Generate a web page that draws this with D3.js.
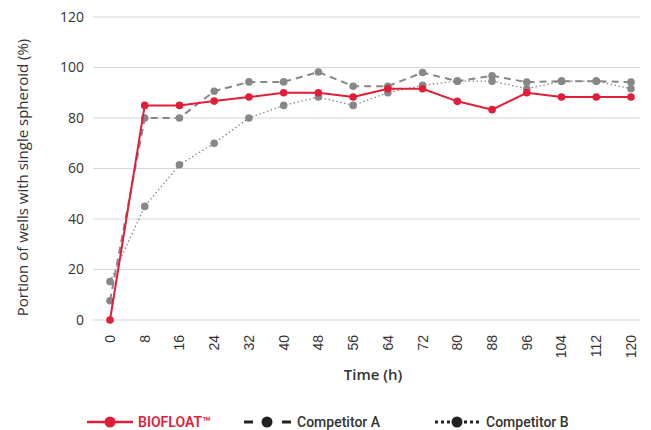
<!DOCTYPE html>
<html>
<head>
<meta charset="utf-8">
<script src="https://cdn.jsdelivr.net/npm/d3@7"></script>
<style>
  html, body { margin: 0; padding: 0; background: #fff; }
  svg { display: block; }
</style>
</head>
<body>
<div id="chart"></div>
<script>
const hours = [0, 8, 16, 24, 32, 40, 48, 56, 64, 72, 80, 88, 96, 104, 112, 120];
const biofloat = [0, 85, 85, 86.7, 88.3, 90, 90, 88.3, 91.6, 91.6, 86.6, 83.3, 90, 88.3, 88.3, 88.3];
const competitorA = [7.6, 80, 80, 90.6, 94.3, 94.3, 98.2, 92.6, 92.6, 98, 94.6, 96.7, 94.2, 94.6, 94.6, 94.2];
const competitorB = [15.2, 45, 61.5, 70, 80, 85, 88.3, 85, 90, 93, 94.6, 94.6, 91.6, 94.6, 94.6, 91.6];
const yTicks = [0, 20, 40, 60, 80, 100, 120];

const RED = '#e21d38';
const GREY = '#878787';
const INK = '#333';

const width = 651, height = 430;
const svg = d3.select('#chart').append('svg')
    .attr('width', width).attr('height', height);

const x = d3.scaleLinear().domain([0, 120]).range([110, 631]);
const y = d3.scaleLinear().domain([0, 120]).range([320, 17]);

// Gridlines
svg.append('g').selectAll('line').data(yTicks).enter().append('line')
    .attr('x1', 93).attr('x2', 640)
    .attr('y1', (d) => y(d)).attr('y2', (d) => y(d))
    .attr('stroke', '#d6d6dc').attr('stroke-width', 1.2);

// Y tick labels
svg.append('g').selectAll('text').data(yTicks).enter().append('text')
    .attr('x', 84).attr('y', (d) => y(d)).attr('dy', '0.35em')
    .attr('text-anchor', 'end')
    .style('font', '14px "Open Sans", sans-serif').attr('fill', INK)
    .text((d) => d);

// X tick labels, rotated
svg.append('g').selectAll('text').data(hours).enter().append('text')
    .attr('transform', (d) => `translate(${x(d)},335) rotate(-90)`)
    .attr('dy', '0.35em')
    .attr('text-anchor', 'end')
    .style('font', '14px "Liberation Sans", Arial, sans-serif').attr('fill', INK)
    .text((d) => d);

// Axis titles
svg.append('text')
    .attr('transform', `translate(23,${(y(0) + y(120)) / 2 + 9}) rotate(-90)`)
    .attr('text-anchor', 'middle').attr('dy', '0.35em')
    .style('font', '500 15px "Open Sans", sans-serif').attr('fill', INK)
    .text('Portion of wells with single spheroid (%)');
svg.append('text')
    .attr('x', 373).attr('y', 380)
    .attr('text-anchor', 'middle')
    .style('font', '600 15px "Open Sans", sans-serif').attr('fill', INK)
    .text('Time (h)');

// Series
const series = [
    { name: 'Competitor B', values: competitorB, color: GREY, width: 1.3, dash: '1.5,2.5' },
    { name: 'Competitor A', values: competitorA, color: GREY, width: 2, dash: '7,5' },
    { name: 'BIOFLOAT™', values: biofloat, color: RED, width: 2, dash: null },
];
const line = d3.line().x((d) => x(d[0])).y((d) => y(d[1]));

series.forEach((s) => {
    const pts = hours.map((h, i) => [h, s.values[i]]);
    const g = svg.append('g');
    g.append('path').datum(pts)
        .attr('fill', 'none').attr('stroke', s.color)
        .attr('stroke-width', s.width)
        .attr('stroke-dasharray', s.dash)
        .attr('d', line);
    g.selectAll('circle').data(pts).enter().append('circle')
        .attr('cx', (d) => x(d[0])).attr('cy', (d) => y(d[1]))
        .attr('r', 3.8).attr('fill', s.color);
});

// Legend
const ly = 422;
const leg = svg.append('g');
// BIOFLOAT
leg.append('line').attr('x1', 87).attr('x2', 133).attr('y1', ly).attr('y2', ly)
    .attr('stroke', RED).attr('stroke-width', 2.5);
leg.append('circle').attr('cx', 110).attr('cy', ly).attr('r', 5.5).attr('fill', RED);
leg.append('text').attr('x', 138).attr('y', ly).attr('dy', '0.35em')
    .style('font', '600 14px Roboto, sans-serif').attr('fill', RED)
    .text('BIOFLOAT™');
// Competitor A
leg.append('line').attr('x1', 244).attr('x2', 253).attr('y1', ly).attr('y2', ly)
    .attr('stroke', '#222').attr('stroke-width', 3);
leg.append('line').attr('x1', 282).attr('x2', 291).attr('y1', ly).attr('y2', ly)
    .attr('stroke', '#222').attr('stroke-width', 3);
leg.append('circle').attr('cx', 267).attr('cy', ly).attr('r', 5.5).attr('fill', '#222');
leg.append('text').attr('x', 297).attr('y', ly).attr('dy', '0.35em')
    .style('font', '500 14px Roboto, sans-serif').attr('fill', INK)
    .text('Competitor A');
// Competitor B
leg.append('line').attr('x1', 435).attr('x2', 451).attr('y1', ly).attr('y2', ly)
    .attr('stroke', '#222').attr('stroke-width', 3).attr('stroke-dasharray', '3,3');
leg.append('line').attr('x1', 464).attr('x2', 482).attr('y1', ly).attr('y2', ly)
    .attr('stroke', '#222').attr('stroke-width', 3).attr('stroke-dasharray', '3,3');
leg.append('circle').attr('cx', 457).attr('cy', ly).attr('r', 5.5).attr('fill', '#222');
leg.append('text').attr('x', 486).attr('y', ly).attr('dy', '0.35em')
    .style('font', '500 14px Roboto, sans-serif').attr('fill', INK)
    .text('Competitor B');
</script>
</body>
</html>
